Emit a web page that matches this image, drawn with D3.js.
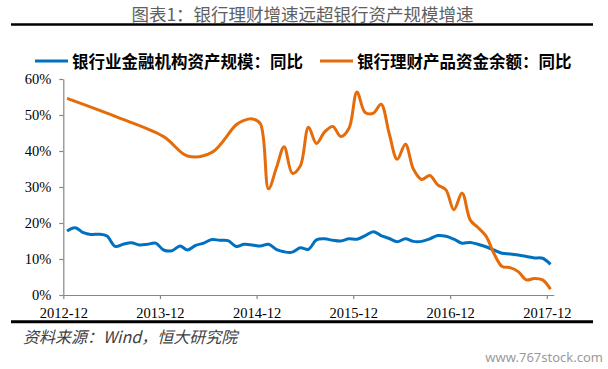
<!DOCTYPE html>
<html><head><meta charset="utf-8">
<script src="https://cdn.jsdelivr.net/npm/d3@7"></script>
<style>
html,body{margin:0;padding:0;background:#fff;}
svg{display:block;}
.ax text{font-family:"Liberation Serif","Times New Roman",serif !important;font-size:14.5px;fill:#000;}
</style></head>
<body>
<svg id="c" width="608" height="369"></svg>
<script>
const titleText = "图表1：银行理财增速远超银行资产规模增速";
const sourceText = "资料来源：Wind，恒大研究院";
const watermark = "www.767stock.com";
const seriesNames = ["银行业金融机构资产规模：同比", "银行理财产品资金余额：同比"];
const seriesColors = ["#0070C0", "#E46C0A"];

const yTicks = [0, 10, 20, 30, 40, 50, 60];
const xTickLabels = ["2012-12", "2013-12", "2014-12", "2015-12", "2016-12", "2017-12"];

// Bank assets YoY (%), monthly 2012-12 .. 2017-12
const bankMonths = d3.range(61).map(i => { const d = new Date(2012, 11 + i, 1); return d3.timeFormat("%Y-%m")(d); });
const bankValues = [17.8, 18.7, 17.3, 16.8, 16.9, 16.4, 13.5, 14.1, 14.5, 13.9,
  14.1, 14.4, 12.5, 12.3, 13.6, 12.5, 13.8, 14.4, 15.4, 15.2,
  15.1, 13.5, 14.1, 13.9, 13.6, 14.1, 12.6, 12.0, 11.9, 13.1,
  12.7, 15.3, 15.6, 15.2, 15.0, 15.6, 15.5, 16.5, 17.6, 16.5,
  15.7, 14.8, 15.6, 14.9, 14.9, 15.6, 16.5, 16.3, 15.5, 14.4,
  14.6, 14.1, 13.4, 12.5, 11.6, 11.4, 11.1, 10.7, 10.3, 10.2, 8.5];

// Bank WMP balance YoY (%)
const wmpMonths = ["2012-12", "2013-06", "2013-12", "2014-03", "2014-06", "2014-09", "2014-10", "2014-11", "2014-12",
  "2015-01", "2015-02", "2015-03", "2015-04", "2015-05", "2015-06", "2015-07", "2015-08", "2015-09", "2015-10",
  "2015-11", "2015-12", "2016-01", "2016-02", "2016-03", "2016-04", "2016-05", "2016-06", "2016-07", "2016-08",
  "2016-09", "2016-10", "2016-11", "2016-12", "2017-01", "2017-02", "2017-03", "2017-04", "2017-05", "2017-06",
  "2017-07", "2017-08", "2017-09", "2017-10", "2017-11", "2017-12"];
const wmpValues = [54.6, 49.6, 44.0, 38.6, 39.6, 47.3, 48.5, 48.9, 47.6,
  29.5, 35.6, 41.2, 33.8, 35.8, 46.6, 42.1, 45.3, 46.8, 44.0,
  46.3, 56.4, 50.7, 50.5, 53.0, 44.8, 37.7, 41.9, 35.0, 32.1,
  33.2, 30.6, 29.2, 23.7, 28.3, 20.8, 18.8, 16.4, 11.6, 7.9,
  7.6, 6.5, 4.2, 4.6, 4.2, 1.6];

const parseMid = s => { const [y, m] = s.split("-").map(Number); return new Date(y, m - 1, 15); };
const parseTick = s => { const [y, m] = s.split("-").map(Number); return new Date(y, m - 1, 1); };

const svg = d3.select("#c");
const x0 = 63.3, yearPx = 96.7;
const x = d3.scaleTime()
  .domain([new Date(2012, 11, 1), new Date(2017, 11, 27)])
  .range([x0, x0 + yearPx * 5 + yearPx * 26 / 365]);
const y = d3.scaleLinear().domain([0, 60]).range([295, 79]);

// Title
svg.append("text").attr("x", 302.5).attr("y", 13).attr("text-anchor", "middle")
  .attr("dominant-baseline", "central")
  .style("font-family", "'Noto Sans CJK SC'").style("font-size", "17.5px")
  .style("fill", "#606060").text(titleText);
svg.append("line").attr("x1", 11).attr("x2", 593).attr("y1", 24.5).attr("y2", 24.5)
  .attr("stroke", "#000").attr("stroke-width", 2.5);

// Legend
const legX = [[35, 68, 72], [320, 353, 357]];
seriesNames.forEach((n, i) => {
  svg.append("line").attr("x1", legX[i][0]).attr("x2", legX[i][1]).attr("y1", 61).attr("y2", 61)
    .attr("stroke", seriesColors[i]).attr("stroke-width", 3);
  svg.append("text").attr("x", legX[i][2]).attr("y", 61).attr("dominant-baseline", "central")
    .style("font-family", "'Noto Sans CJK SC'").style("font-weight", "bold").style("font-size", "16.5px")
    .style("fill", "#000").text(n);
});

// Axes
const yAxis = d3.axisLeft(y).tickValues(yTicks).tickFormat(d => d + "%").tickSize(4).tickSizeOuter(0).tickPadding(8);
const gy = svg.append("g").attr("class", "ax").attr("transform", `translate(${x0},0)`).call(yAxis);
const xAxis = d3.axisBottom(x).tickValues(xTickLabels.map(parseTick))
  .tickFormat(d3.timeFormat("%Y-%m")).tickSize(4).tickSizeOuter(0).tickPadding(9);
const gx = svg.append("g").attr("class", "ax").attr("transform", "translate(0,295)").call(xAxis);
[gx, gy].forEach(g => {
  g.attr("font-family", "Liberation Serif").attr("font-size", 14.5);
  g.selectAll("path.domain").attr("stroke", "#868686").attr("stroke-width", 1.2);
  g.selectAll(".tick line").attr("stroke", "#868686").attr("stroke-width", 1.2);
});

// Lines
const line = d3.line().x(d => x(d.date)).y(d => y(d.v)).curve(d3.curveCatmullRom.alpha(0.5));
const bankData = bankMonths.map((m, i) => ({ date: parseMid(m), v: bankValues[i] }));
const wmpData = wmpMonths.map((m, i) => ({ date: parseMid(m), v: wmpValues[i] }));
svg.append("path").datum(bankData).attr("d", line).attr("fill", "none")
  .attr("stroke", seriesColors[0]).attr("stroke-width", 3).attr("stroke-linejoin", "round");
svg.append("path").datum(wmpData).attr("d", line).attr("fill", "none")
  .attr("stroke", seriesColors[1]).attr("stroke-width", 3).attr("stroke-linejoin", "round");

// Bottom rule & source
svg.append("line").attr("x1", 11).attr("x2", 593).attr("y1", 321.7).attr("y2", 321.7)
  .attr("stroke", "#000").attr("stroke-width", 3);
svg.append("text").attr("x", 23).attr("y", 336).attr("dominant-baseline", "central")
  .style("font-family", "'Noto Sans CJK SC'").style("font-style", "italic").style("font-size", "16px")
  .style("fill", "#404040").text(sourceText);
svg.append("text").attr("x", 603).attr("y", 357).attr("text-anchor", "end").attr("dominant-baseline", "central")
  .style("font-family", "'Noto Sans', sans-serif").style("font-size", "13px")
  .style("fill", "#9a9a9a").text(watermark);
</script>
</body></html>
